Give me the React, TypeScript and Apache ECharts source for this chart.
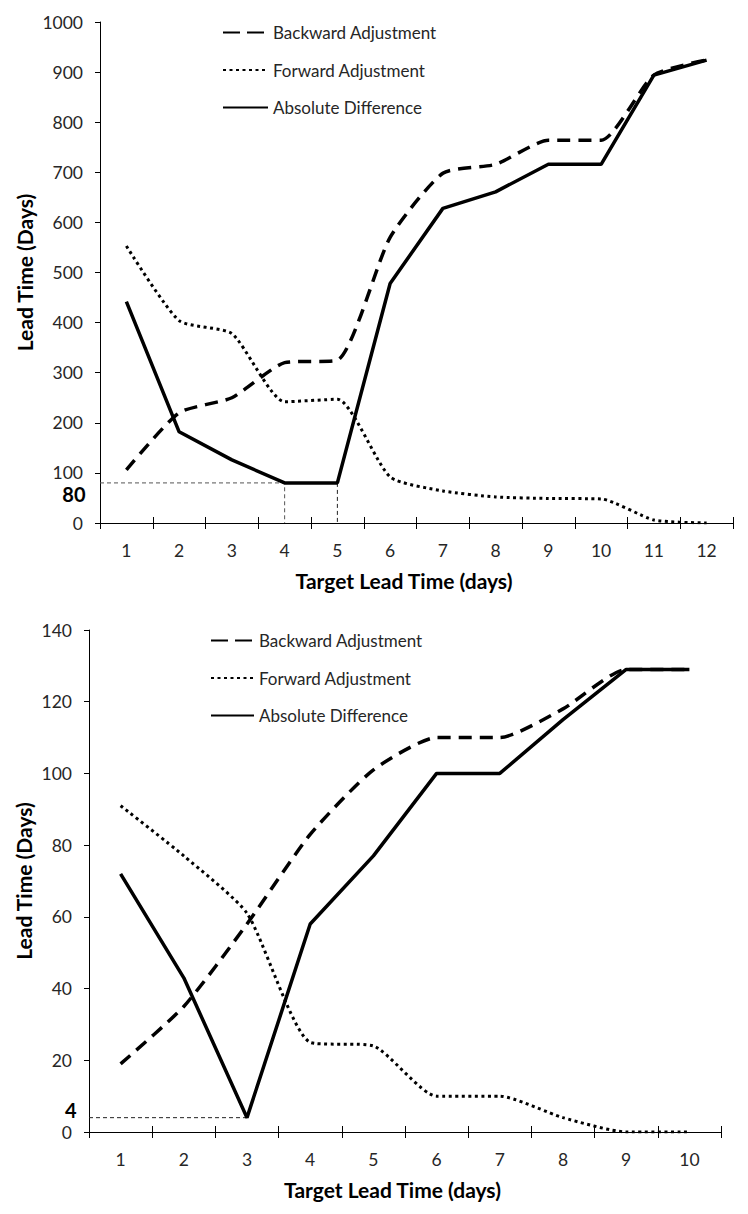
import React, { useEffect, useRef } from "react";
import * as echarts from "echarts";

// ---- Top chart data ----
const topCategories = ["1", "2", "3", "4", "5", "6", "7", "8", "9", "10", "11", "12"];
const topBackward = [106, 220, 250, 320, 325, 570, 698, 716, 764, 764, 894, 924];
const topForward = [553, 404, 378, 242, 247, 92, 64, 52, 49, 48, 6, 0];
const topAbsolute = [442, 182, 126, 80, 80, 478, 628, 661, 716, 716, 894, 924];
const topMinimum = 80;
const topMinimumAt = [4, 5];

// ---- Bottom chart data ----
const bottomCategories = ["1", "2", "3", "4", "5", "6", "7", "8", "9", "10"];
const bottomBackward = [19, 35, 58, 83, 101, 110, 110, 118, 129, 129];
const bottomForward = [91, 77, 61, 25, 24, 10, 10, 4, 0, 0];
const bottomAbsolute = [72, 43, 4, 58, 77, 100, 100, 115, 129, 129];
const bottomMinimum = 4;
const bottomMinimumAt = [3];

const seriesNames = ["Backward Adjustment", "Forward Adjustment", "Absolute Difference"];

const FONT = "Lato, 'Open Sans', sans-serif";
const TXT = "#262626";

function buildOption() {
  const grids = [
    { left: 100, right: 15, top: 22, height: 501 },
    { left: 89, right: 27, top: 630, height: 502 },
  ];

  const catAxisPair = (gridIndex: number, cats: string[]) => [
    {
      type: "category",
      gridIndex,
      data: cats,
      boundaryGap: true,
      position: "bottom",
      axisLine: { show: true, lineStyle: { color: "#000", width: 1 } },
      axisTick: { show: true, inside: false, length: 6, lineStyle: { color: "#000" } },
      axisLabel: { color: TXT, fontFamily: FONT, fontSize: 17.5, margin: 18 },
      splitLine: { show: false },
      name: "Target Lead Time (days)",
      nameLocation: "middle",
      nameGap: 47,
      nameTextStyle: {
        color: "#000",
        fontFamily: FONT,
        fontSize: 21,
        fontWeight: "bold",
        padding: [0, 25, 0, 0],
      },
    },
    {
      type: "category",
      gridIndex,
      data: cats,
      boundaryGap: true,
      position: "bottom",
      axisLine: { show: false },
      axisTick: { show: true, inside: true, length: 6, lineStyle: { color: "#000" } },
      axisLabel: { show: false },
      splitLine: { show: false },
    },
  ];

  const refAxis = (gridIndex: number, n: number) => ({
    type: "value",
    gridIndex,
    min: 0.5,
    max: n + 0.5,
    show: false,
    splitLine: { show: false },
  });

  const yAxisFor = (gridIndex: number, max: number, interval: number, nameGap: number) => ({
    type: "value",
    gridIndex,
    min: 0,
    max,
    interval,
    axisLine: { show: true, lineStyle: { color: "#000", width: 1 } },
    axisTick: { show: true, inside: false, length: 5, lineStyle: { color: "#000" } },
    axisLabel: {
      color: TXT,
      fontFamily: FONT,
      fontSize: 17.5,
      margin: 17,
      formatter: (v: number) => String(v),
    },
    splitLine: { show: false },
    name: "Lead Time (Days)",
    nameLocation: "middle",
    nameGap,
    nameMoveOverlap: false,
    nameTextStyle: { color: "#000", fontFamily: FONT, fontSize: 21, fontWeight: "bold" },
  });

  const lineSeries = (
    name: string,
    data: number[],
    xAxisIndex: number,
    yAxisIndex: number,
    kind: "dash" | "dot" | "solid"
  ) => ({
    name,
    type: "line",
    xAxisIndex,
    yAxisIndex,
    data,
    symbol: "none",
    smooth: kind === "solid" ? false : 0.2,
    itemStyle: { color: "#000" },
    lineStyle: {
      color: "#000",
      width: kind === "dot" ? 3 : 3.5,
      type: kind === "dash" ? [13, 8] : kind === "dot" ? [3, 3.5] : "solid",
      cap: "butt",
    },
    z: kind === "solid" ? 4 : 3,
  });

  const refSeries = (
    xAxisIndex: number,
    yAxisIndex: number,
    points: number[][],
    color: string,
    labelText: string | null,
    labelOffset: number[]
  ) => ({
    type: "line",
    xAxisIndex,
    yAxisIndex,
    data: points.map((p, i) => ({
      value: p,
      label:
        i === 0 && labelText
          ? {
              show: true,
              position: "left",
              distance: 14,
              offset: labelOffset,
              formatter: labelText,
              color: "#000",
              fontFamily: FONT,
              fontSize: 20,
              fontWeight: "bold",
            }
          : { show: false },
    })),
    symbol: "circle",
    symbolSize: 1,
    showSymbol: true,
    silent: true,
    lineStyle: { color, width: 1, type: [4, 3] },
    itemStyle: { color: "rgba(0,0,0,0)" },
    z: 2,
  });

  const topN = topCategories.length;
  const botN = bottomCategories.length;

  const series: any[] = [
    lineSeries(seriesNames[0], topBackward, 0, 0, "dash"),
    lineSeries(seriesNames[1], topForward, 0, 0, "dot"),
    lineSeries(seriesNames[2], topAbsolute, 0, 0, "solid"),
    refSeries(
      2,
      0,
      [
        [0.5, topMinimum],
        [topMinimumAt[0], topMinimum],
        [topMinimumAt[0], 0],
      ],
      "#555",
      String(topMinimum),
      [0, 11]
    ),
    refSeries(
      2,
      0,
      [
        [topMinimumAt[1], topMinimum],
        [topMinimumAt[1], 0],
      ],
      "#222",
      null,
      [0, 0]
    ),
    lineSeries(seriesNames[0], bottomBackward, 3, 1, "dash"),
    lineSeries(seriesNames[1], bottomForward, 3, 1, "dot"),
    lineSeries(seriesNames[2], bottomAbsolute, 3, 1, "solid"),
    refSeries(
      5,
      1,
      [
        [0.5, bottomMinimum],
        [bottomMinimumAt[0], bottomMinimum],
      ],
      "#222",
      String(bottomMinimum),
      [2, -8]
    ),
  ];

  const legendData = [
    { name: seriesNames[0], lineStyle: { type: [17, 7] } },
    { name: seriesNames[1] },
    { name: seriesNames[2] },
  ];

  const legendBase = {
    orient: "vertical",
    data: legendData,
    itemHeight: 14,
    itemGap: 20.5,
    padding: 0,
    selectedMode: false,
    itemStyle: { opacity: 0 },
    textStyle: { color: TXT, fontFamily: FONT, fontSize: 17 },
  };

  return {
    animation: false,
    backgroundColor: "#fff",
    grid: grids,
    legend: [
      { ...legendBase, left: 222, top: 24, itemWidth: 45 },
      { ...legendBase, left: 210, top: 632, itemWidth: 43 },
    ],
    xAxis: [
      ...catAxisPair(0, topCategories),
      refAxis(0, topN),
      ...catAxisPair(1, bottomCategories),
      refAxis(1, botN),
    ],
    yAxis: [yAxisFor(0, 1000, 100, 65), yAxisFor(1, 140, 20, 55)],
    series,
  };
}

export default function App() {
  const ref = useRef<HTMLDivElement>(null);
  useEffect(() => {
    if (!ref.current) return;
    const chart = echarts.init(ref.current, undefined, { renderer: "svg" });
    chart.setOption(buildOption() as any);
    return () => chart.dispose();
  }, []);
  return (
    <div
      style={{
        position: "fixed",
        left: 0,
        top: 0,
        width: 748,
        height: 1214,
        boxSizing: "border-box",
        border: "2px solid #333",
        background: "#fff",
      }}
    >
      <div ref={ref} style={{ position: "absolute", left: -2, top: -2, width: 748, height: 1214 }} />
    </div>
  );
}
